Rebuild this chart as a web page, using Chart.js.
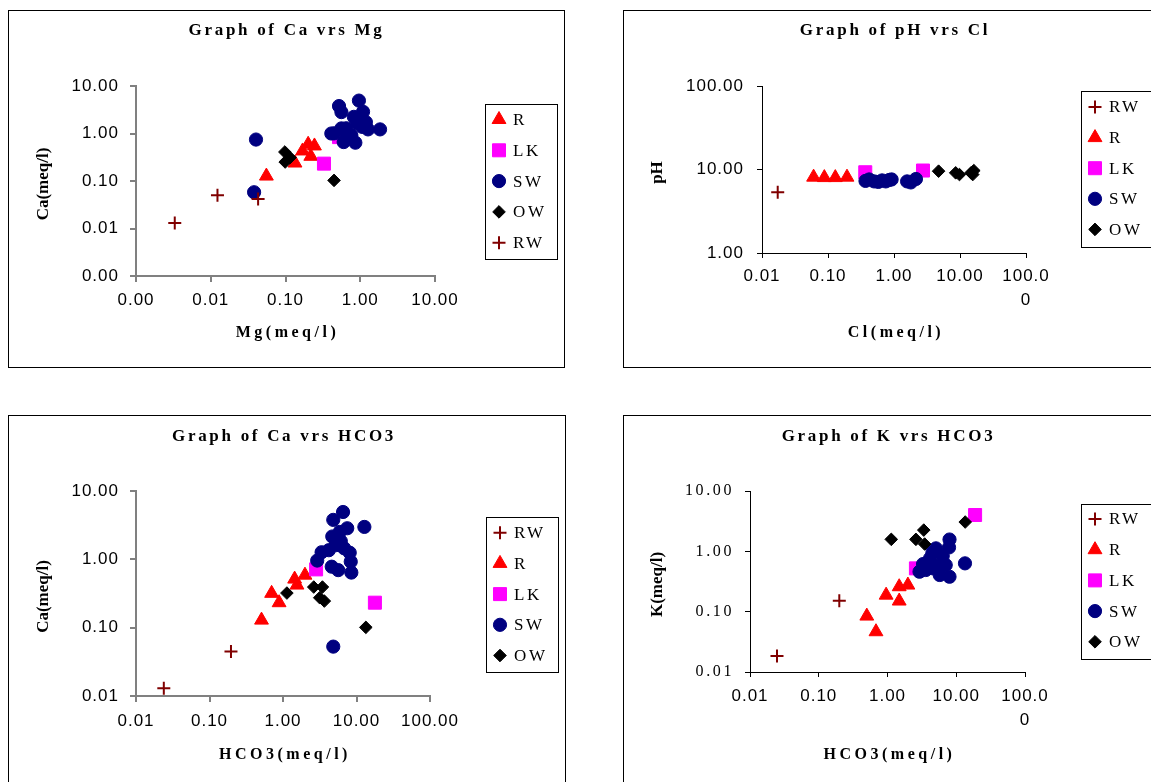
<!DOCTYPE html>
<html>
<head>
<meta charset="utf-8">
<title>Ca, pH and K plots</title>
<script src="https://cdn.jsdelivr.net/npm/chart.js@4.4.1/dist/chart.umd.min.js"></script>
<style>
  html, body { margin: 0; padding: 0; background: #fff; overflow: hidden; }
  body { width: 1151px; height: 782px; position: relative; }
  .panel { position: absolute; box-sizing: border-box; border: 1px solid #000; background: #fff; }
  .panel canvas { display: block; }
</style>
</head>
<body>
<div class="panel" style="left:8px;top:10px;width:557px;height:358px"><canvas id="caMg" width="555" height="356"></canvas></div>
<div class="panel" style="left:623px;top:10px;width:557px;height:358px"><canvas id="phCl" width="555" height="356"></canvas></div>
<div class="panel" style="left:8px;top:415px;width:558px;height:390px"><canvas id="caHco3" width="556" height="388"></canvas></div>
<div class="panel" style="left:623px;top:415px;width:557px;height:390px"><canvas id="kHco3" width="555" height="388"></canvas></div>

<script>
// sample groups
var groups = ['RW', 'R', 'LK', 'SW', 'OW'];

// Ca vs Mg (meq/l)
var mgRW = [0.0033, 0.0123, 0.043];
var caMgRW = [0.0131, 0.050, 0.042];
var mgR = [0.0555, 0.134, 0.169, 0.201, 0.244, 0.218];
var caMgR = [0.127, 0.239, 0.429, 0.594, 0.547, 0.331];
var mgLK = [0.327, 0.52];
var caMgLK = [0.232, 0.84];
var mgSW = [0.0403, 0.038, 0.96, 0.52, 0.56, 1.09, 0.82, 0.91, 1.19, 1.27, 1.84, 0.45, 0.56, 0.67, 0.60, 0.86, 0.41, 1.06, 0.76, 0.65];
var caMgSW = [0.746, 0.058, 4.93, 3.78, 2.82, 2.87, 2.24, 1.63, 1.73, 1.22, 1.22, 1.01, 1.28, 0.86, 0.66, 0.64, 1.0, 1.38, 0.92, 1.29];
var mgOW = [0.098, 0.099, 0.115, 0.446];
var caMgOW = [0.408, 0.251, 0.311, 0.103];

// pH vs Cl
var clRW = [0.0173];
var phRW = [5.33];
var clR = [0.0605, 0.088, 0.129, 0.194];
var phR = [8.1, 8.0, 8.0, 8.1];
var clLK = [0.367, 2.75];
var phLK = [9.27, 9.72];
var clSW = [0.37, 0.42, 0.50, 0.58, 0.66, 0.75, 0.85, 0.92, 1.58, 1.80, 2.15];
var phSW = [7.3, 7.6, 7.2, 7.1, 7.4, 7.2, 7.5, 7.6, 7.2, 7.0, 7.7];
var clOW = [4.74, 8.6, 9.8, 14.7, 15.6, 16.2];
var phOW = [9.55, 9.12, 8.7, 9.12, 8.7, 9.7];

// Ca vs HCO3
var hcoCaRW = [0.0239, 0.196];
var caRW = [0.0130, 0.0447];
var hcoCaR = [0.51, 0.70, 0.885, 1.44, 1.55, 1.99];
var caR = [0.129, 0.318, 0.232, 0.514, 0.42, 0.587];
var hcoCaLK = [2.82, 17.8];
var caLK = [0.713, 0.232];
var hcoCaSW = [6.56, 4.83, 12.8, 7.48, 5.91, 4.68, 6.11, 5.22, 8.09, 3.35, 4.20, 2.92, 8.35, 5.64, 8.51, 4.83, 6.8, 4.6];
var caSW = [4.93, 3.78, 2.98, 2.85, 2.52, 2.16, 1.85, 1.61, 1.25, 1.27, 1.36, 0.96, 0.925, 0.695, 0.64, 0.0528, 1.45, 0.78];
var hcoCaOW = [1.13, 2.62, 3.44, 3.16, 3.65, 13.4];
var caOW = [0.321, 0.393, 0.393, 0.274, 0.245, 0.101];

// K vs HCO3
var hcoKRW = [0.0247, 0.199];
var kRW = [0.0184, 0.152];
var hcoKR = [0.50, 0.68, 0.955, 1.48, 1.48, 1.98];
var kR = [0.0845, 0.0465, 0.188, 0.150, 0.259, 0.276];
var hcoKLK = [2.59, 18.8];
var kLK = [0.522, 4.0];
var hcoKSW = [7.98, 7.85, 5.06, 6.36, 4.16, 5.25, 3.29, 2.92, 7.03, 7.98, 13.4, 4.59, 5.75, 3.6, 4.5];
var kSW = [1.57, 1.16, 1.12, 0.836, 0.766, 0.575, 0.615, 0.459, 0.593, 0.379, 0.632, 0.522, 0.405, 0.49, 0.95];
var hcoKOW = [1.135, 3.37, 2.59, 3.47, 13.5];
var kOW = [1.58, 2.25, 1.58, 1.32, 3.06];

// axis ticks
var mgTicks = [0.001, 0.01, 0.1, 1, 10];
var mgTickLabels = ['0.00', '0.01', '0.10', '1.00', '10.00'];
var caMgTicks = [0.001, 0.01, 0.1, 1, 10];
var caMgTickLabels = ['0.00', '0.01', '0.10', '1.00', '10.00'];
var clTicks = [0.01, 0.1, 1, 10, 100];
var clTickLabels = ['0.01', '0.10', '1.00', '10.00', ['100.0', '0']];
var phTicks = [1, 10, 100];
var phTickLabels = ['1.00', '10.00', '100.00'];
var hcoCaTicks = [0.01, 0.1, 1, 10, 100];
var hcoCaTickLabels = ['0.01', '0.10', '1.00', '10.00', '100.00'];
var caTicks = [0.01, 0.1, 1, 10];
var caTickLabels = ['0.01', '0.10', '1.00', '10.00'];
var hcoKTicks = [0.01, 0.1, 1, 10, 100];
var hcoKTickLabels = ['0.01', '0.10', '1.00', '10.00', ['100.0', '0']];
var kTicks = [0.01, 0.1, 1, 10];
var kTickLabels = ['0.01', '0.10', '1.00', '10.00'];

// marker look for each group
var styles = {
  RW: { shape: 'cross', r: 6.5, bw: 2, color: '#800000' },
  R: { shape: 'triangle', r: 8, bw: 1, color: '#ff0000' },
  LK: { shape: 'rect', r: 9.2, bw: 1, color: '#ff00ff' },
  SW: { shape: 'circle', r: 6.6, bw: 1, color: '#000080' },
  OW: { shape: 'rectRot', r: 6.3, bw: 1, color: '#000000' }
};

var SANS = { family: 'Liberation Sans', size: 17, lineHeight: 1.44 };
var SERIF = { family: 'Liberation Serif', size: 16, lineHeight: 1.44 };

// letter spacing for the tick labels (canvas has no option for it in Chart.js)
function spacing(amount) {
  return {
    id: 'spacing',
    beforeDraw: function (chart) {
      Object.keys(chart.scales).forEach(function (k) {
        var s = chart.scales[k];
        if (s._spaced) return;
        var draw = s.drawLabels;
        s.drawLabels = function (area) {
          this.ctx.save();
          this.ctx.letterSpacing = (amount[k] || 0) + 'px';
          draw.call(this, area);
          this.ctx.restore();
        };
        s._spaced = true;
      });
    }
  };
}

// title, axis titles and the boxed legend
function decor(o) {
  return {
    id: 'decor',
    afterDraw: function (chart) {
      var ctx = chart.ctx, a = chart.chartArea;
      var cx = (a.left + a.right) / 2, cy = (a.top + a.bottom) / 2;
      ctx.save();
      ctx.fillStyle = '#000';
      ctx.textAlign = 'center';
      ctx.textBaseline = 'middle';

      ctx.font = 'bold 17px "Liberation Serif"';
      ctx.letterSpacing = '2.7px';
      ctx.fillText(o.title, cx + 1, o.titleY);

      ctx.font = 'bold 16px "Liberation Serif"';
      ctx.letterSpacing = '3.5px';
      ctx.fillText(o.xTitle, cx + 2, o.xTitleY);

      ctx.save();
      ctx.font = 'bold 17px "Liberation Serif"';
      ctx.letterSpacing = '0px';
      ctx.translate(o.yTitleX, cy + 3);
      ctx.rotate(-Math.PI / 2);
      ctx.fillText(o.yTitle, 0, 0);
      ctx.restore();

      var lg = o.legend;
      ctx.strokeStyle = '#000';
      ctx.lineWidth = 1;
      ctx.strokeRect(lg.x + 0.5, lg.y + 0.5, lg.w, lg.h);
      ctx.font = '17px "Liberation Serif"';
      ctx.letterSpacing = '2.6px';
      ctx.textAlign = 'left';
      lg.items.forEach(function (g, i) {
        var st = styles[g], y = lg.y + lg.first + i * lg.step;
        ctx.fillStyle = st.color;
        ctx.strokeStyle = st.color;
        ctx.lineWidth = st.bw;
        Chart.helpers.drawPoint(ctx, { pointStyle: st.shape, radius: st.r, borderWidth: st.bw, rotation: 0 }, lg.x + 14, y);
        ctx.fillStyle = '#000';
        ctx.fillText(g, lg.x + 28, y + 1);
      });
      ctx.restore();
    }
  };
}

function axis(pos, ticks, labels, size, color, width, tickLen, pad, font) {
  return {
    type: 'logarithmic',
    position: pos,
    min: ticks[0],
    max: ticks[ticks.length - 1],
    afterBuildTicks: function (s) {
      s.ticks = ticks.map(function (v) { return { value: v }; });
    },
    afterFit: function (s) {
      if (pos === 'left') s.width = size; else s.height = size;
    },
    ticks: {
      autoSkip: false, maxRotation: 0, minRotation: 0,
      padding: pad, color: '#000', font: font,
      callback: function (v, i) { return labels[i]; }
    },
    grid: { drawOnChartArea: false, drawTicks: true, tickLength: tickLen, color: color, lineWidth: width },
    border: { display: true, color: color, width: width }
  };
}

function scatter(id, o) {
  var canvas = document.getElementById(id);
  var W = canvas.width, H = canvas.height, a = o.area;
  var sets = o.order.map(function (g, i) {
    var st = styles[g];
    return {
      label: g,
      data: o.x[g].map(function (v, j) { return { x: v, y: o.y[g][j] }; }),
      pointStyle: st.shape,
      pointRadius: st.r,
      pointBorderWidth: st.bw,
      pointBackgroundColor: st.color,
      pointBorderColor: st.color,
      order: o.order.length - i
    };
  });
  return new Chart(canvas, {
    type: 'scatter',
    data: { datasets: sets },
    options: {
      responsive: false,
      animation: false,
      devicePixelRatio: 1,
      events: [],
      layout: { padding: { left: 0, top: a.top, right: W - a.right, bottom: H - a.bottom - 60 } },
      plugins: { legend: { display: false }, tooltip: { enabled: false } },
      scales: {
        x: axis('bottom', o.xTicks, o.xLabels, 60, o.axisColor, o.axisWidth, o.xTick, o.xPad, SANS),
        y: axis('left', o.yTicks, o.yLabels, a.left, o.axisColor, o.axisWidth, o.yTick, o.yPad, o.yFont || SANS)
      }
    },
    plugins: [spacing(o.spacing), decor(o.decor)]
  });
}

scatter('caMg', {
  area: { left: 127, top: 75, right: 426, bottom: 265 },
  order: ['R', 'LK', 'SW', 'OW', 'RW'],
  x: { RW: mgRW, R: mgR, LK: mgLK, SW: mgSW, OW: mgOW },
  y: { RW: caMgRW, R: caMgR, LK: caMgLK, SW: caMgSW, OW: caMgOW },
  xTicks: mgTicks, xLabels: mgTickLabels, yTicks: caMgTicks, yLabels: caMgTickLabels,
  axisColor: '#808080', axisWidth: 2, xTick: 6, yTick: 6, xPad: 6, yPad: 11,
  spacing: { x: 1, y: 1 },
  decor: {
    title: 'Graph of Ca vrs Mg', titleY: 20,
    xTitle: 'Mg(meq/l)', xTitleY: 322,
    yTitle: 'Ca(meq/l)', yTitleX: 35,
    legend: { x: 476, y: 93, w: 72, h: 155, first: 15.5, step: 30.8, items: ['R', 'LK', 'SW', 'OW', 'RW'] }
  }
});

scatter('phCl', {
  area: { left: 138, top: 75, right: 402, bottom: 242 },
  order: groups,
  x: { RW: clRW, R: clR, LK: clLK, SW: clSW, OW: clOW },
  y: { RW: phRW, R: phR, LK: phLK, SW: phSW, OW: phOW },
  xTicks: clTicks, xLabels: clTickLabels, yTicks: phTicks, yLabels: phTickLabels,
  axisColor: '#000000', axisWidth: 1, xTick: 5, yTick: 5, xPad: 6, yPad: 13,
  spacing: { x: 1, y: 1 },
  decor: {
    title: 'Graph of pH vrs Cl', titleY: 20,
    xTitle: 'Cl(meq/l)', xTitleY: 322,
    yTitle: 'pH', yTitleX: 34,
    legend: { x: 457, y: 80, w: 80, h: 156, first: 16, step: 30.6, items: groups }
  }
});

scatter('caHco3', {
  area: { left: 127, top: 75, right: 421, bottom: 280 },
  order: groups,
  x: { RW: hcoCaRW, R: hcoCaR, LK: hcoCaLK, SW: hcoCaSW, OW: hcoCaOW },
  y: { RW: caRW, R: caR, LK: caLK, SW: caSW, OW: caOW },
  xTicks: hcoCaTicks, xLabels: hcoCaTickLabels, yTicks: caTicks, yLabels: caTickLabels,
  axisColor: '#808080', axisWidth: 2, xTick: 6, yTick: 6, xPad: 7, yPad: 11,
  spacing: { x: 1, y: 1 },
  decor: {
    title: 'Graph of Ca vrs HCO3', titleY: 21,
    xTitle: 'HCO3(meq/l)', xTitleY: 339,
    yTitle: 'Ca(meq/l)', yTitleX: 35,
    legend: { x: 477, y: 101, w: 72, h: 155, first: 15.7, step: 30.7, items: groups }
  }
});

scatter('kHco3', {
  area: { left: 126, top: 75, right: 401, bottom: 256 },
  order: groups,
  x: { RW: hcoKRW, R: hcoKR, LK: hcoKLK, SW: hcoKSW, OW: hcoKOW },
  y: { RW: kRW, R: kR, LK: kLK, SW: kSW, OW: kOW },
  xTicks: hcoKTicks, xLabels: hcoKTickLabels, yTicks: kTicks, yLabels: kTickLabels,
  axisColor: '#000000', axisWidth: 1, xTick: 5, yTick: 5, xPad: 7, yPad: 11,
  yFont: SERIF,
  spacing: { x: 1, y: 2.6 },
  decor: {
    title: 'Graph of K vrs HCO3', titleY: 21,
    xTitle: 'HCO3(meq/l)', xTitleY: 339,
    yTitle: 'K(meq/l)', yTitleX: 34,
    legend: { x: 457, y: 88, w: 80, h: 155, first: 15, step: 30.7, items: groups }
  }
});
</script>
</body>
</html>
